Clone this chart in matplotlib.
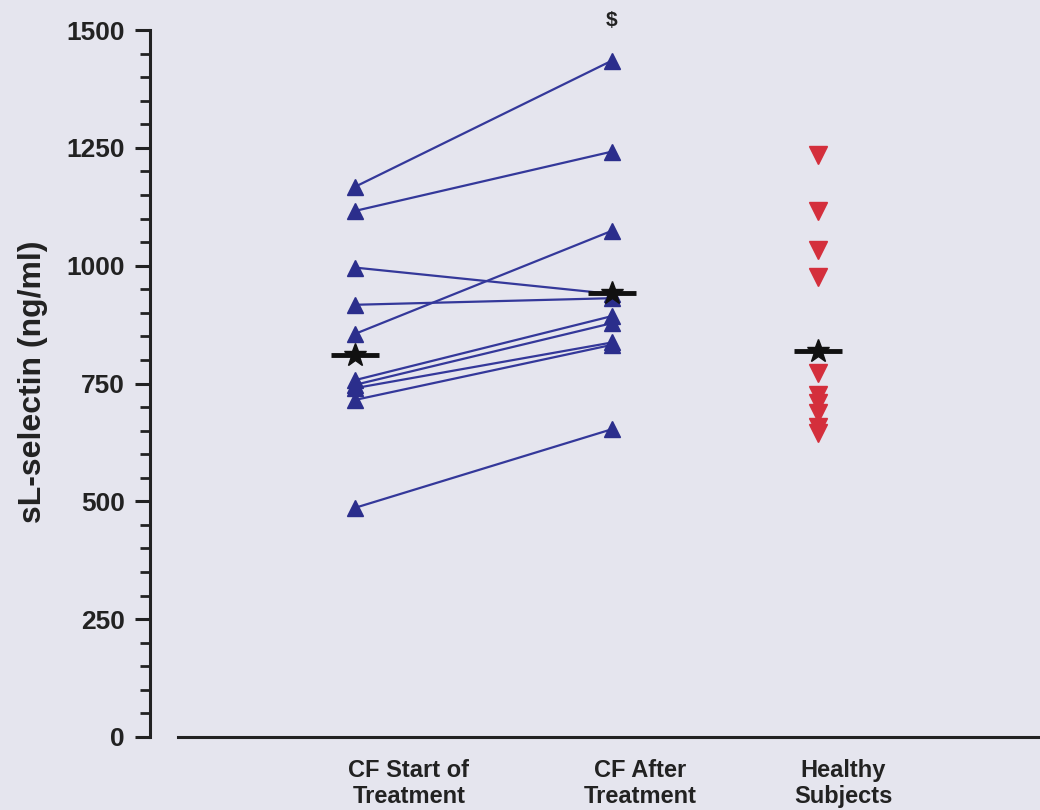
import matplotlib
matplotlib.use("Agg")
import matplotlib.pyplot as plt

# ---- data ----
groups = ["CF Start of\nTreatment", "CF After\nTreatment", "Healthy\nSubjects"]
cf_start = [1167, 1116, 996, 917, 855, 757, 747, 740, 715, 486]
cf_after = [1435, 1242, 940, 931, 1074, 893, 878, 837, 832, 653]
healthy = [1235, 1115, 1033, 977, 772, 726, 709, 687, 658, 645]
medians = [810, 942, 818]
yticks = [0, 250, 500, 750, 1000, 1250, 1500]

# ---- layout ----
marker_x = [0.230, 0.519, 0.751]
label_x = [0.291, 0.551, 0.779]

bg = "#e5e5ee"
navy = "#2b2e8c"
line_c = "#34389a"
red = "#d42f3c"

plt.rcParams['font.family'] = ['Liberation Sans', 'DejaVu Sans']
fig = plt.figure(figsize=(10.4, 8.1), dpi=100, facecolor=bg)
ax = fig.add_axes([150/1040, 73/810, 890/1040, 707/810], facecolor=bg)

# paired lines
for s, a in zip(cf_start, cf_after):
    ax.plot([marker_x[0], marker_x[1]], [s, a], color=line_c, lw=1.6, zorder=2)
ax.plot([marker_x[0]] * len(cf_start), cf_start, ls='none', marker='^',
        ms=11, color=navy, mec=navy, zorder=3)
ax.plot([marker_x[1]] * len(cf_after), cf_after, ls='none', marker='^',
        ms=11, color=navy, mec=navy, zorder=3, clip_on=False)
ax.plot([marker_x[2]] * len(healthy), healthy, ls='none', marker='v',
        ms=13.5, color=red, mec=red, zorder=3)

# medians
for x, m in zip(marker_x, medians):
    ax.plot([x], [m], marker='_', ms=34, mew=3.5, color='#111111', zorder=5)
    ax.plot([x], [m], marker='*', ms=17, color='#111111', mec='#111111', zorder=6)

# significance mark
ax.text(marker_x[1], 1520, "$", ha='center', va='center', fontsize=15,
        fontweight='bold', color='#222222', clip_on=False)

ax.set_xlim(0, 1)
ax.set_ylim(0, 1500)
ax.set_yticks(yticks)
ax.set_yticklabels([str(t) for t in yticks], fontsize=19, fontweight='bold', color='#222222')
ax.set_yticks(range(0, 1501, 50), minor=True)
ax.tick_params(axis='y', which='major', length=11, width=2.2, pad=7, color='#222222')
ax.tick_params(axis='y', which='minor', length=7, width=2.0, color='#222222')

ax.set_xticks(label_x)
ax.set_xticklabels(groups, fontsize=17, fontweight='bold', color='#222222', linespacing=1.15)
ax.tick_params(axis='x', length=0, pad=16)

ax.set_ylabel("sL-selectin (ng/ml)", fontsize=23, fontweight='bold', color='#222222', va='center')
ax.yaxis.set_label_coords(-0.132, 0.502)

for sp in ['top', 'right']:
    ax.spines[sp].set_visible(False)
ax.spines['left'].set_linewidth(2.2)
ax.spines['left'].set_color('#222222')
ax.spines['bottom'].set_linewidth(2.2)
ax.spines['bottom'].set_color('#222222')
ax.spines['bottom'].set_bounds(28/890, 1)

fig.savefig("out.png", dpi=100, facecolor=bg)
